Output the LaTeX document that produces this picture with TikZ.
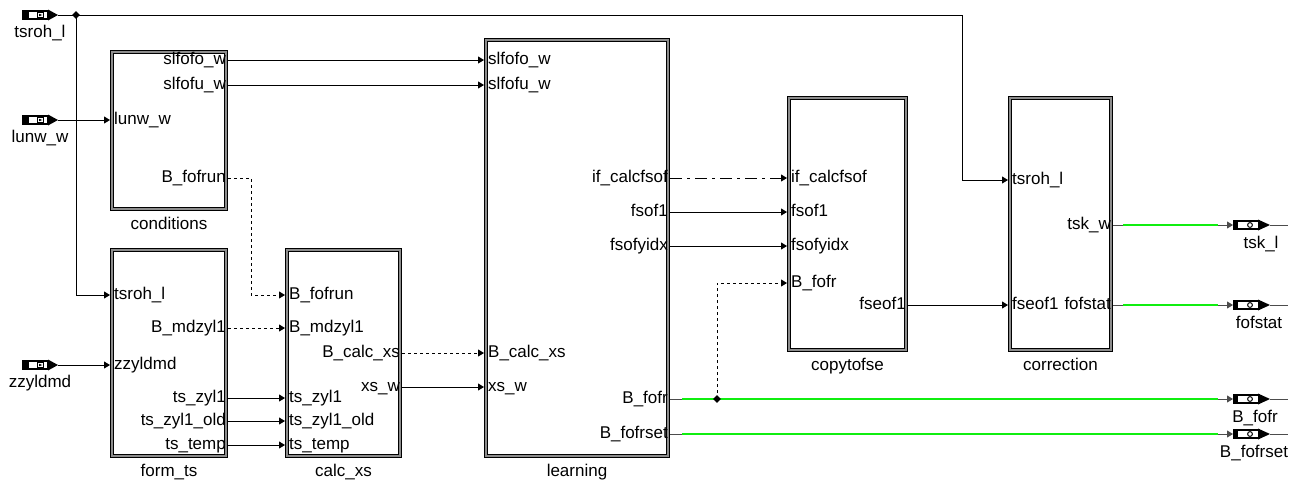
\documentclass[tikz,border=0pt]{standalone}
\usepackage{fontspec}
\setmainfont{Liberation Sans}
\usepackage{xcolor}
\usepackage{tikz}
\usetikzlibrary{arrows.meta,positioning,shapes.geometric}
\definecolor{busgreen}{HTML}{10EE10}

\begin{document}
\begin{tikzpicture}[x=1pt,y=-1pt,font=\fontsize{17}{20}\selectfont,
  blk/.style={draw=black,double=black!45,double distance=2pt,line width=0.8pt,inner sep=0pt,outer sep=0pt},
  ttl/.style={inner sep=0pt},
  pinl/.style={anchor=west,inner xsep=4pt,inner ysep=0pt,text height=12pt,text depth=3pt},
  pinr/.style={anchor=east,inner xsep=2pt,inner ysep=0pt,text height=12pt,text depth=3pt},
  wire/.style={line width=0.9pt,-{Triangle[length=6pt,width=7pt]}},
  dsh/.style={dash pattern=on 3pt off 3pt},
  dshdot/.style={dash pattern=on 12pt off 5pt on 3pt off 5pt},
  junc/.style={diamond,fill,inner sep=0pt,minimum size=8pt},
  bus/.style={busgreen,line width=2.4pt},
  plbl/.style={inner sep=0pt,anchor=north},
  inport/.pic={
    \fill (-36,-5) rectangle (-9,5);
    \fill[white] (-29,-3.3) rectangle (-11,3.3);
    \fill (-21,-2.8) rectangle (-14,2.8);
    \fill[white] (-19.8,-1.6) rectangle (-15.2,1.6);
    \fill (-19,-1.2) -- (-15.6,0) -- (-19,1.2) -- cycle;
    \fill (-10,-5.5) -- (0,0) -- (-10,5.5) -- cycle;
  },
  outport/.pic={
    \fill (0,-5) rectangle (27,5);
    \fill[white] (4.5,-3.3) rectangle (25,3.3);
    \draw[line width=1pt,fill=white] (17,0) circle (2.4pt);
    \fill (25,-5.5) -- (37,0) -- (25,5.5) -- cycle;
    \draw[line width=0.9pt,black!70] (37,0) -- (55,0);
  }]
\useasboundingbox (0,0) rectangle (1299,483);

\node[blk,minimum width=114.4pt,minimum height=157.4pt] (cond) at (169,130.5) {};
\node[blk,minimum width=114.4pt,minimum height=206.4pt] (form) at (169,353) {};
\node[blk,minimum width=113.4pt,minimum height=206.4pt] (calc) at (343.5,353) {};
\node[blk,minimum width=182.4pt,minimum height=416.4pt] (learn) at (577,248) {};
\node[blk,minimum width=117.4pt,minimum height=252.4pt] (copy) at (847.5,224) {};
\node[blk,minimum width=101.4pt,minimum height=252.4pt] (corr) at (1060.5,224) {};
\node[ttl,below=8pt of cond] {conditions};
\node[ttl,below=8pt of form] {form\_ts};
\node[ttl,below=8pt of calc] {calc\_xs};
\node[ttl,below=8pt of learn] {learning};
\node[ttl,below=8pt of copy] {copytofse};
\node[ttl,below=8pt of corr] {correction};

\node[pinl] (cond-lunw) at (110,120) {lunw\_w};
\node[pinr] (cond-slfofo) at (228,60) {slfofo\_w};
\node[pinr] (cond-slfofu) at (228,85) {slfofu\_w};
\node[pinr] (cond-fofrun) at (228,178) {B\_fofrun};

\node[pinl] (form-tsroh) at (110,295) {tsroh\_l};
\node[pinl] (form-zzyl) at (110,365) {zzyldmd};
\node[pinr] (form-mdzyl) at (228,328) {B\_mdzyl1};
\node[pinr] (form-zyl) at (228,398) {ts\_zyl1};
\node[pinr] (form-zylold) at (228,421) {ts\_zyl1\_old};
\node[pinr] (form-temp) at (228,445) {ts\_temp};

\node[pinl] (calc-fofrun) at (285,295) {B\_fofrun};
\node[pinl] (calc-mdzyl) at (285,328) {B\_mdzyl1};
\node[pinl] (calc-zyl) at (285,398) {ts\_zyl1};
\node[pinl] (calc-zylold) at (285,421) {ts\_zyl1\_old};
\node[pinl] (calc-temp) at (285,445) {ts\_temp};
\node[pinr] (calc-calcxs) at (402,353) {B\_calc\_xs};
\node[pinr] (calc-xs) at (402,387) {xs\_w};

\node[pinl] (learn-slfofo) at (484,60) {slfofo\_w};
\node[pinl] (learn-slfofu) at (484,85) {slfofu\_w};
\node[pinl] (learn-calcxs) at (484,353) {B\_calc\_xs};
\node[pinl] (learn-xs) at (484,387) {xs\_w};
\node[pinr] (learn-ifcalc) at (670,178) {if\_calcfsof};
\node[pinr] (learn-fsof) at (670,212) {fsof1};
\node[pinr] (learn-fsofy) at (670,246) {fsofyidx};
\node[pinr] (learn-fofr) at (670,399) {B\_fofr};
\node[pinr] (learn-fofrset) at (670,434) {B\_fofrset};

\node[pinl] (copy-ifcalc) at (787,178) {if\_calcfsof};
\node[pinl] (copy-fsof) at (787,212) {fsof1};
\node[pinl] (copy-fsofy) at (787,246) {fsofyidx};
\node[pinl] (copy-fofr) at (787,283) {B\_fofr};
\node[pinr] (copy-fseof) at (908,305) {fseof1};

\node[pinl] (corr-tsroh) at (1008,180) {tsroh\_l};
\node[pinl] (corr-fseof) at (1008,305) {fseof1};
\node[pinr] (corr-tsk) at (1113,225) {tsk\_w};
\node[pinr] (corr-fofstat) at (1113,305) {fofstat};

\coordinate (tsroh-port) at (58,15);
\coordinate (lunw-port) at (58,120);
\coordinate (zzyl-port) at (58,365);
\pic at (tsroh-port) {inport};
\pic at (lunw-port) {inport};
\pic at (zzyl-port) {inport};
\node[plbl] (tsroh-lbl) at (40,25) {tsroh\_l};
\node[plbl] (lunw-lbl) at (40,130) {lunw\_w};
\node[plbl] (zzyl-lbl) at (40,375) {zzyldmd};

\coordinate (tsk-port) at (1233,225);
\coordinate (fofstat-port) at (1233,305);
\coordinate (fofr-port) at (1233,399);
\coordinate (fofrset-port) at (1233,434);
\pic at (tsk-port) {outport};
\pic at (fofstat-port) {outport};
\pic at (fofr-port) {outport};
\pic at (fofrset-port) {outport};
\node[plbl] (tsk-lbl) at (1261,236) {tsk\_l};
\node[plbl] (fofstat-lbl) at (1259,316) {fofstat};
\node[plbl] (fofr-lbl) at (1255,410) {B\_fofr};
\node[plbl] (fofrset-lbl) at (1254,445) {B\_fofrset};

\node[junc] (j1) at (76,15) {};
\draw[line width=0.9pt] (tsroh-port) -- (j1.center);
\draw[wire] (j1.center) -- (962,15) |- (corr-tsroh.west);
\draw[wire] (j1.center) |- (form-tsroh.west);
\draw[wire] (lunw-port) -- (cond-lunw.west);
\draw[wire] (zzyl-port) -- (form-zzyl.west);

\draw[wire] (cond-slfofo.east) -- (learn-slfofo.west);
\draw[wire] (cond-slfofu.east) -- (learn-slfofu.west);
\draw[wire,dsh] (cond-fofrun.east) -- ++(23,0) |- (calc-fofrun.west);
\draw[wire,dsh] (form-mdzyl.east) -- (calc-mdzyl.west);
\draw[wire] (form-zyl.east) -- (calc-zyl.west);
\draw[wire] (form-zylold.east) -- (calc-zylold.west);
\draw[wire] (form-temp.east) -- (calc-temp.west);
\draw[wire,dsh] (calc-calcxs.east) -- (learn-calcxs.west);
\draw[wire] (calc-xs.east) -- (learn-xs.west);

\draw[wire,dshdot] (learn-ifcalc.east) -- (copy-ifcalc.west);
\draw[wire] (learn-fsof.east) -- (copy-fsof.west);
\draw[wire] (learn-fsofy.east) -- (copy-fsofy.west);
\draw[wire] (copy-fseof.east) -- (corr-fseof.west);

\draw[wire,black!70] (learn-fofr.east) -- (fofr-port);
\draw[wire,black!70] (learn-fofrset.east) -- (fofrset-port);
\draw[wire,black!70] (corr-tsk.east) -- (tsk-port);
\draw[wire,black!70] (corr-fofstat.east) -- (fofstat-port);
\draw[bus] (682,399) -- (1218,399);
\draw[bus] (682,434) -- (1218,434);
\draw[bus] (1123,225) -- (1218,225);
\draw[bus] (1123,305) -- (1218,305);
\node[junc] (j2) at (717,399) {};
\draw[wire,dsh] (j2.center) |- (copy-fofr.west);
\end{tikzpicture}
\end{document}
